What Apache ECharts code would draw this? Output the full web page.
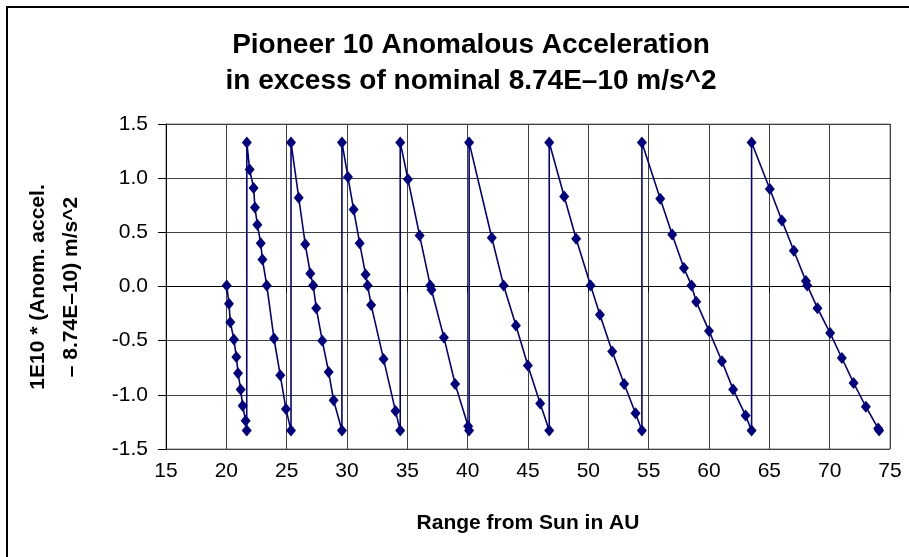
<!DOCTYPE html>
<html>
<head>
<meta charset="utf-8">
<script src="https://cdn.jsdelivr.net/npm/echarts@6/dist/echarts.min.js"></script>
<style>
  html, body { margin: 0; padding: 0; background: #fff; }
  #main { width: 909px; height: 557px; }
</style>
</head>
<body>
<div id="main"></div>
<script>
// range from Sun (AU)
var rangeAU = [
  20.03, 20.22, 20.33, 20.63, 20.83, 20.97, 21.19, 21.35, 21.60, 21.69,
  21.70, 21.93, 22.26, 22.37, 22.57, 22.85, 22.99, 23.35, 23.95, 24.47, 24.94, 25.36,
  25.36, 26.00, 26.54, 26.96, 27.20, 27.45, 27.95, 28.48, 28.89, 29.58,
  29.58, 30.08, 30.55, 31.05, 31.54, 31.71, 32.00, 33.03, 34.02, 34.41,
  34.41, 35.05, 36.02, 36.90, 37.00, 38.03, 38.96, 40.04, 40.12,
  40.12, 42.00, 42.98, 44.00, 44.99, 46.01, 46.76,
  46.76, 48.00, 48.99, 50.19, 50.96, 51.98, 52.97, 53.91, 54.44,
  54.44, 55.96, 56.95, 57.92, 58.55, 58.94, 60.00, 61.07, 62.00, 63.03, 63.53,
  63.53, 65.04, 66.04, 67.03, 68.03, 68.14, 68.99, 70.04, 71.01, 71.98, 73.00, 74.02, 74.10
];
// 1E10 * (anomalous accel - 8.74E-10)
var excessAccel = [
  0.01, -0.16, -0.33, -0.49, -0.65, -0.80, -0.95, -1.10, -1.24, -1.33,
  1.33, 1.08, 0.91, 0.73, 0.57, 0.40, 0.25, 0.01, -0.48, -0.82, -1.13, -1.33,
  1.33, 0.82, 0.39, 0.12, 0.01, -0.20, -0.50, -0.79, -1.05, -1.33,
  1.33, 1.01, 0.71, 0.40, 0.11, 0.01, -0.17, -0.67, -1.15, -1.33,
  1.33, 0.99, 0.47, 0.01, -0.03, -0.47, -0.90, -1.29, -1.33,
  1.33, 0.45, 0.01, -0.36, -0.73, -1.08, -1.33,
  1.33, 0.83, 0.44, 0.01, -0.26, -0.60, -0.90, -1.17, -1.33,
  1.33, 0.81, 0.48, 0.17, 0.01, -0.14, -0.41, -0.69, -0.95, -1.19, -1.33,
  1.33, 0.90, 0.61, 0.33, 0.05, 0.01, -0.20, -0.43, -0.66, -0.89, -1.11, -1.31, -1.33
];
var xTicks = [15, 20, 25, 30, 35, 40, 45, 50, 55, 60, 65, 70, 75];
var yTicks = [-1.5, -1.0, -0.5, 0.0, 0.5, 1.0, 1.5];

var chart = echarts.init(document.getElementById('main'));
var font = 'Liberation Sans, Arial, sans-serif';

var option = {
  backgroundColor: '#fff',
  animation: false,
  title: {
    text: 'Pioneer 10 Anomalous Acceleration\nin excess of nominal 8.74E\u201310 m/s^2',
    left: 466,
    top: 22,
    textAlign: 'center',
    textStyle: {
      fontFamily: font,
      fontWeight: 'bold',
      fontSize: 28,
      lineHeight: 36,
      color: '#000'
    }
  },
  graphic: [{
    type: 'rect',
    shape: { x: 7, y: 7, width: 1000, height: 1000 },
    style: { fill: 'none', stroke: '#000', lineWidth: 2 },
    silent: true
  }, {
    type: 'text',
    rotation: Math.PI / 2,
    x: 55,
    y: 287,
    style: {
      text: '1E10 * (Anom. accel.\n\u2013 8.74E\u201310) m/s^2',
      fontFamily: font,
      fontWeight: 'bold',
      fontSize: 21,
      lineHeight: 33,
      align: 'center',
      verticalAlign: 'middle',
      fill: '#000'
    },
    silent: true
  }],
  grid: {
    left: 166,
    right: 19,
    top: 124,
    bottom: 108,
    show: true,
    borderColor: '#808080',
    borderWidth: 1
  },
  xAxis: {
    type: 'value',
    min: xTicks[0],
    max: xTicks[xTicks.length - 1],
    interval: 5,
    name: 'Range from Sun in AU',
    nameLocation: 'middle',
    nameGap: 64,
    nameTextStyle: { fontFamily: font, fontWeight: 'bold', fontSize: 21, color: '#000' },
    axisLine: { lineStyle: { color: '#000', width: 1 } },
    axisTick: { show: true, length: 6, lineStyle: { color: '#000' } },
    axisLabel: { fontFamily: font, fontSize: 21, color: '#000', margin: 12 },
    splitLine: { show: true, lineStyle: { color: '#404040', width: 1 } }
  },
  yAxis: {
    type: 'value',
    min: yTicks[0],
    max: yTicks[yTicks.length - 1],
    interval: 0.5,
    axisLine: { show: true, lineStyle: { color: '#000', width: 1 } },
    axisTick: { show: true, length: 8, lineStyle: { color: '#000' } },
    axisLabel: {
      fontFamily: font, fontSize: 21, color: '#000', margin: 18,
      formatter: function (v) { return v.toFixed(1); }
    },
    splitLine: { show: true, lineStyle: { color: '#404040', width: 1 } }
  },
  series: [{
    type: 'line',
    data: rangeAU.map(function (x, i) { return [x, excessAccel[i]]; }),
    symbol: 'diamond',
    symbolSize: [10, 12],
    showAllSymbol: true,
    lineStyle: { color: '#000080', width: 1.6 },
    itemStyle: { color: '#000080' }
  }]
};

chart.setOption(option);
</script>
</body>
</html>
